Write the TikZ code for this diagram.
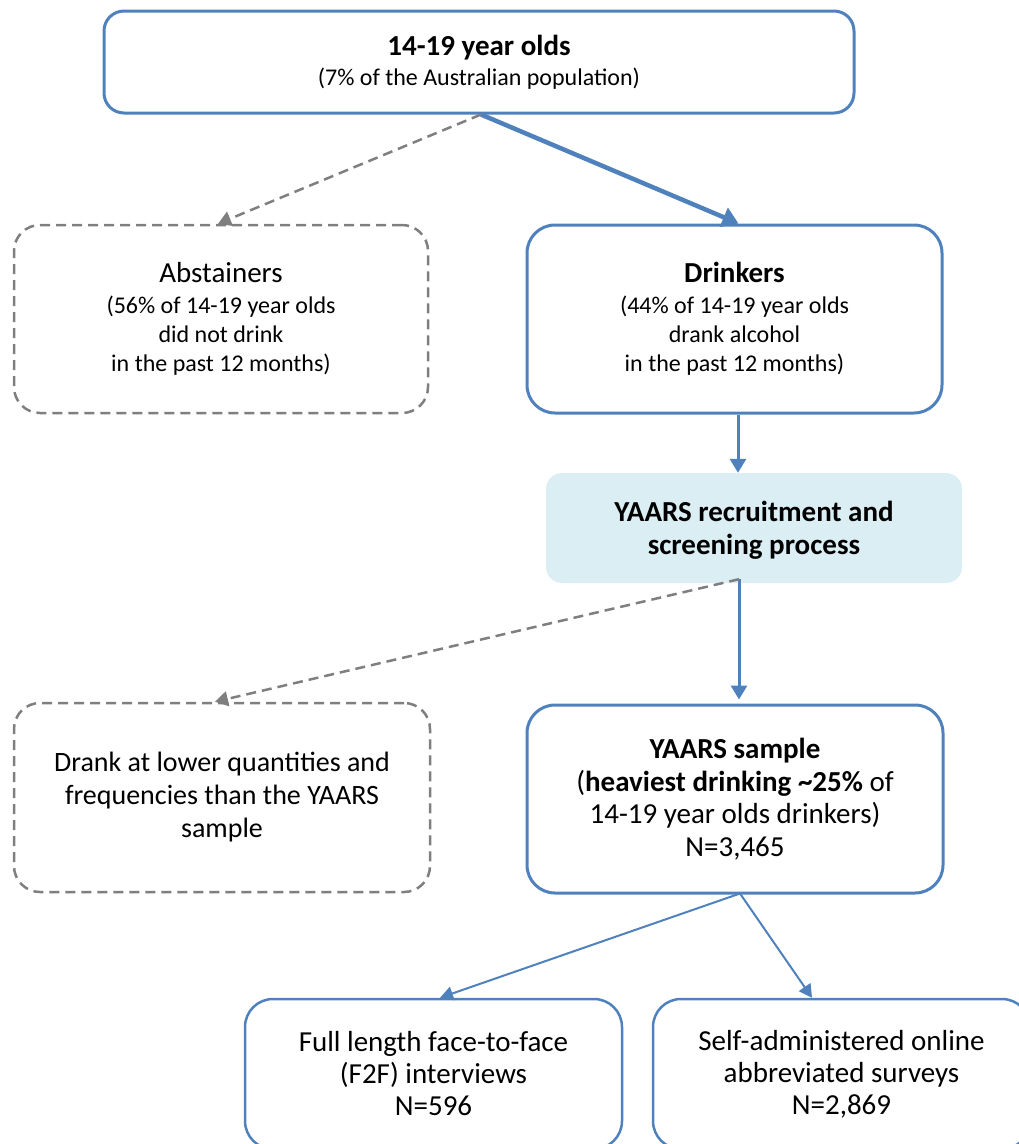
\documentclass[tikz,border=0pt]{standalone}
\usepackage{fontspec}
\setmainfont{Carlito}
\usetikzlibrary{arrows.meta}
\definecolor{obl}{HTML}{4F81BD}
\definecolor{ogr}{HTML}{7F7F7F}
\definecolor{ofill}{HTML}{DBEEF4}
\newcommand{\bigtxt}{\fontsize{29}{33}\selectfont}
\newcommand{\midtxt}{\fontsize{28}{33}\selectfont}
\newcommand{\smtxt}{\fontsize{24}{29}\selectfont}
\tikzset{
  solidbox/.style={draw=obl, line width=3pt, rounded corners=28pt, align=center, inner sep=0pt, font=\bigtxt},
  dashbox/.style={draw=ogr, line width=2.5pt, dash pattern=on 10pt off 6pt, rounded corners=26pt, align=center, inner sep=0pt, font=\bigtxt},
  fillbox/.style={fill=ofill, rounded corners=16pt, align=center, inner sep=0pt, font=\bigtxt},
  bluearr/.style={draw=obl, -{Triangle[length=14pt,width=16pt]}},
  grayarr/.style={draw=ogr, line width=2.5pt, dash pattern=on 10pt off 6pt, -{Triangle[length=13pt,width=15pt]}},
}
\begin{document}
\begin{tikzpicture}[x=1pt,y=-1pt]
\path[use as bounding box] (0,0) rectangle (1019,1144);
\begin{scope}
\clip (0,0) rectangle (1019,1144);
\node[solidbox, rounded corners=20pt, minimum width=750pt, minimum height=102pt] (top) at (479,62)
  {\bfseries 14-19 year olds\\[-3pt] \smtxt (7\% of the Australian population)};
\node[dashbox, minimum width=414pt, minimum height=188pt] (abst) at (221,319)
  {Abstainers\\[-2pt] \smtxt (56\% of 14-19 year olds\\[-4pt] \smtxt did not drink\\[-4pt] \smtxt in the past 12 months)};
\node[solidbox, minimum width=415pt, minimum height=188pt] (drink) at (734.5,319)
  {\bfseries Drinkers\\[-2pt] \smtxt (44\% of 14-19 year olds\\[-4pt] \smtxt drank alcohol\\[-4pt] \smtxt in the past 12 months)};
\node[fillbox, minimum width=416pt, minimum height=110pt, text depth=0pt] (rec) at (754,528)
  {\bfseries YAARS recruitment and\\ \bfseries screening process};
\node[dashbox, font=\midtxt, minimum width=416pt, minimum height=189pt] (lower) at (222,797.5)
  {Drank at lower quantities and\\ frequencies than the YAARS\\ sample};
\node[solidbox, minimum width=416pt, minimum height=188pt] (sample) at (735,799)
  {\bfseries YAARS sample\\ (\textbf{heaviest drinking \textasciitilde25\%} of\\[-1pt] 14-19 year olds drinkers)\\ N=3,465};
\node[solidbox, line width=2.5pt, minimum width=377pt, minimum height=150pt] (f2f) at (433.5,1074)
  {Full length face-to-face\\[-1pt] (F2F) interviews\\[-1pt] N=596};
\node[solidbox, line width=2.5pt, minimum width=377pt, minimum height=150pt] (self) at (841.5,1074)
  {Self-administered online\\[-1pt] abbreviated surveys\\[-1pt] N=2,869};
\end{scope}
\draw[bluearr, line width=4.5pt, -{Triangle[length=16pt,width=20pt]}] ([xshift=2pt]top.south) -- ([xshift=4pt]drink.north);
\draw[grayarr] ([xshift=2pt]top.south) -- ([xshift=-3pt]abst.north);
\draw[bluearr, line width=3pt] ([xshift=3.5pt]drink.south) -- ([xshift=3.5pt]drink.south |- rec.north);
\draw[bluearr, line width=3pt] ([xshift=-15pt,yshift=4pt]rec.south) -- ([xshift=-15pt,yshift=4pt]rec.south |- sample.north);
\draw[grayarr] ([xshift=-15pt,yshift=4pt]rec.south) -- ([xshift=-7pt]lower.north);
\draw[bluearr, line width=2pt, -{Triangle[length=13pt,width=14pt]}] ([xshift=5pt,yshift=1pt]sample.south) -- ([xshift=6.5pt]f2f.north);
\draw[bluearr, line width=2pt, -{Triangle[length=13pt,width=14pt]}] ([xshift=5pt,yshift=1pt]sample.south) -- ([xshift=-29.5pt]self.north);
\end{tikzpicture}
\end{document}
